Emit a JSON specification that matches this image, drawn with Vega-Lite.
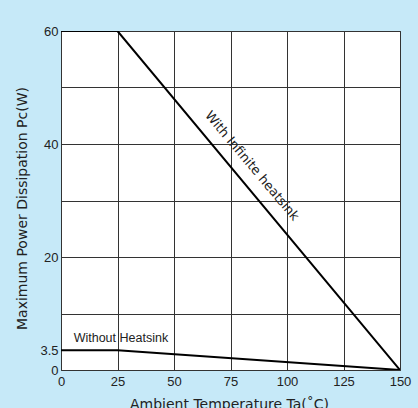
{
  "$schema": "https://vega.github.io/schema/vega-lite/v6.json",
  "width": 339,
  "height": 339,
  "autosize": {"type": "none"},
  "padding": {"left": 61, "top": 31, "right": 18, "bottom": 38},
  "background": "#c6e9f8",
  "config": {
    "view": {"fill": "white", "stroke": "#333", "strokeWidth": 1},
    "font": "Liberation Sans",
    "axis": {"labelFont": "Liberation Sans", "titleFont": "DejaVu Sans", "labelColor": "#222", "titleColor": "#222", "labelFontSize": 13, "titleFontSize": 14, "titleFontWeight": "normal", "domain": false, "ticks": false, "labelFlush": false}
  },
  "resolve": {"axis": {"y": "independent"}},
  "datasets": {
    "curves": [
      {"series": "infinite", "t": 0, "p": 60},
      {"series": "infinite", "t": 25, "p": 60},
      {"series": "infinite", "t": 150, "p": 0},
      {"series": "none", "t": 0, "p": 3.5},
      {"series": "none", "t": 25, "p": 3.5},
      {"series": "none", "t": 150, "p": 0}
    ],
    "label1": [
      {"text": "With Infinite heatsink", "t": 84.5, "p": 36.1}
    ],
    "label2": [
      {"text": "Without Heatsink", "t": 26.5, "p": 5.6}
    ]
  },
  "layer": [
    {
      "data": {"name": "curves"},
      "mark": {"type": "line", "color": "black", "strokeWidth": 2, "clip": true},
      "encoding": {
        "x": {"field": "t", "type": "quantitative", "scale": {"domain": [0, 150], "nice": false},
          "axis": {"values": [0, 25, 50, 75, 100, 125, 150], "grid": true, "gridColor": "#333", "gridOpacity": 1, "labelPadding": 5, "title": "Ambient Temperature Ta(˚C)", "titleX": 168, "titleY": 38, "titleBaseline": "alphabetic", "titleAlign": "center"}},
        "y": {"field": "p", "type": "quantitative", "scale": {"domain": [0, 60], "nice": false},
          "axis": {"orient": "left", "values": [0, 10, 20, 30, 40, 50, 60], "grid": true, "gridColor": "#333", "gridOpacity": 1, "labels": false, "title": null}},
        "detail": {"field": "series"}
      }
    },
    {
      "data": {"name": "curves"},
      "mark": {"type": "point", "opacity": 0},
      "encoding": {
        "x": {"field": "t", "type": "quantitative"},
        "y": {"field": "p", "type": "quantitative",
          "axis": {"orient": "left", "values": [0, 3.5, 20, 40, 60], "format": ".1~f", "grid": false, "labelPadding": 3, "title": "Maximum Power Dissipation Pc(W)", "titleX": -35, "titleY": 177, "titleAlign": "center", "titleBaseline": "alphabetic", "titleAngle": -90}}
      }
    },
    {
      "data": {"name": "label1"},
      "mark": {"type": "text", "color": "#222", "font": "DejaVu Sans", "fontSize": 13, "angle": 50},
      "encoding": {
        "x": {"field": "t", "type": "quantitative"},
        "y": {"field": "p", "type": "quantitative", "axis": null},
        "text": {"field": "text"}
      }
    },
    {
      "data": {"name": "label2"},
      "mark": {"type": "text", "color": "#222", "font": "Liberation Sans", "fontSize": 12.5},
      "encoding": {
        "x": {"field": "t", "type": "quantitative"},
        "y": {"field": "p", "type": "quantitative", "axis": null},
        "text": {"field": "text"}
      }
    }
  ]
}
